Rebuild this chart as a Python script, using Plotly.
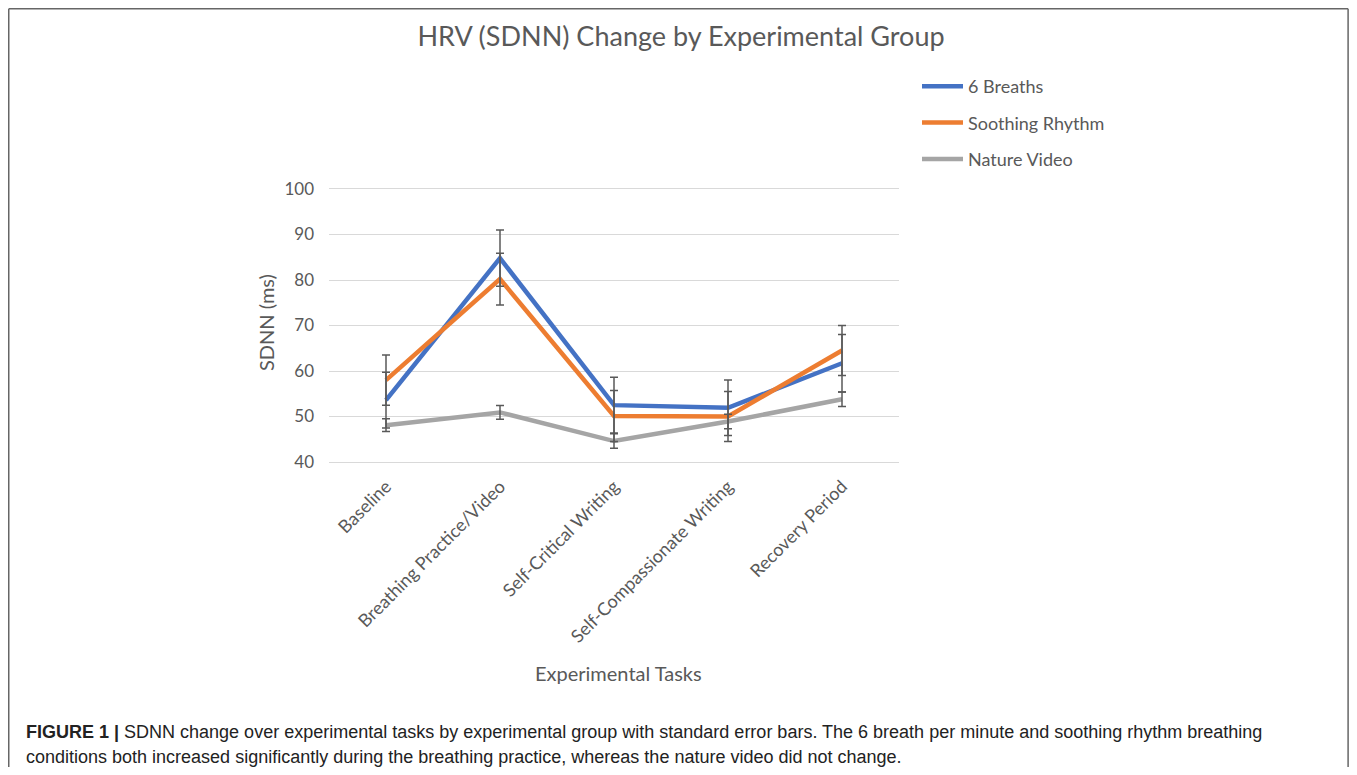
import plotly.graph_objects as go

categories = ["Baseline", "Breathing Practice/Video", "Self-Critical Writing",
              "Self-Compassionate Writing", "Recovery Period"]
series_names = ["6 Breaths", "Soothing Rhythm", "Nature Video"]
breaths6 = [53.6, 84.8, 52.5, 51.9, 61.7]
breaths6_se = [6.1, 6.2, 6.1, 6.1, 6.3]
soothing = [58.0, 80.2, 50.1, 50.0, 64.5]
soothing_se = [5.5, 5.7, 5.6, 5.5, 5.5]
nature = [48.1, 50.9, 44.6, 48.9, 53.8]
nature_se = [1.4, 1.5, 1.6, 1.6, 1.6]
colors = ["#4472C4", "#ED7D31", "#A5A5A5"]
y_ticks = [40, 50, 60, 70, 80, 90, 100]

title_text = "HRV (SDNN) Change by Experimental Group"
x_title = "Experimental Tasks"
y_title = "SDNN (ms)"
caption_bold = "FIGURE 1 |"
caption_1 = ("SDNN change over experimental tasks by experimental group with standard error bars. "
             "The 6 breath per minute and soothing rhythm breathing")
caption_2 = ("conditions both increased significantly during the breathing practice, "
             "whereas the nature video did not change.")

# the page body has an 8px margin on every side, so the figure starts at
# screen (8, 8) and must be 16px smaller than the window to avoid overflow
OFF = 8
W, H = 1357 - 2 * OFF, 775 - 2 * OFF
L, R, T, B = 329, 899, 189, 462          # plot area in screen pixels
PW, PH = R - L, B - T


def px(x):
    return (x - L) / PW


def py(y):
    return (B - y) / PH


FONT = "Lato, Carlito, 'Open Sans', sans-serif"
TXT = "#595959"

fig = go.Figure()
vals = [breaths6, soothing, nature]
ses = [breaths6_se, soothing_se, nature_se]
for i, name in enumerate(series_names):
    fig.add_trace(go.Scatter(
        x=categories, y=vals[i], mode="lines", name=name,
        line=dict(color=colors[i], width=4.5),
        legendgroup=name, hoverinfo="x+y+name"))
for i, name in enumerate(series_names):
    fig.add_trace(go.Scatter(
        x=categories, y=vals[i], mode="none", showlegend=False,
        error_y=dict(type="data", array=ses[i], symmetric=True,
                     color="#595959", thickness=1.5, width=4),
        hoverinfo="skip"))

CAPF = "'Liberation Sans', Arial, sans-serif"
annotations = [
    dict(text=x_title, xref="paper", yref="paper", x=px(618), y=py(673),
         showarrow=False, font=dict(family=FONT, size=20, color=TXT),
         xanchor="center", yanchor="middle"),
    dict(text=y_title, xref="paper", yref="paper", x=px(266), y=py(323),
         showarrow=False, font=dict(family=FONT, size=20, color=TXT),
         textangle=-90, xanchor="center", yanchor="middle"),
    dict(text="<b>" + caption_bold + "</b> " + caption_1, xref="paper", yref="paper",
         x=px(24), y=py(732), showarrow=False, align="left",
         font=dict(family=CAPF, size=18, color="#222222"),
         xanchor="left", yanchor="middle"),
    dict(text=caption_2, xref="paper", yref="paper",
         x=px(24), y=py(757), showarrow=False, align="left",
         font=dict(family=CAPF, size=18, color="#222222"),
         xanchor="left", yanchor="middle"),
]

border = "#666666"
right_edge = OFF + W - 0.9
shapes = [
    dict(type="line", xref="paper", yref="paper", x0=px(8.75), x1=px(right_edge),
         y0=py(8.75), y1=py(8.75), line=dict(color=border, width=1.5)),
    dict(type="line", xref="paper", yref="paper", x0=px(8.75), x1=px(8.75),
         y0=py(8.75), y1=py(800), line=dict(color=border, width=1.5)),
    dict(type="line", xref="paper", yref="paper", x0=px(right_edge), x1=px(right_edge),
         y0=py(8.75), y1=py(800), line=dict(color=border, width=1.5)),
]

fig.update_layout(
    width=W, height=H,
    margin=dict(l=L - OFF, r=W - (R - OFF), t=T - OFF, b=H - (B - OFF), pad=0),
    paper_bgcolor="white", plot_bgcolor="white",
    title=dict(text=title_text, x=(681 - OFF) / W, xref="container", xanchor="center",
               y=1 - (37 - OFF) / H, yref="container", yanchor="middle",
               font=dict(family=FONT, size=27, color=TXT)),
    showlegend=True,
    legend=dict(x=px(917), y=py(68), xanchor="left", yanchor="top",
                font=dict(family=FONT, size=18, color=TXT),
                tracegroupgap=10, traceorder="grouped", itemwidth=41,
                bgcolor="rgba(0,0,0,0)"),
    xaxis=dict(range=[-0.5, 4.5], showgrid=False, showline=True, mirror=True,
               linecolor="#D9D9D9", linewidth=1, tickangle=-45, ticks="",
               ticklabelstandoff=6,
               tickfont=dict(family=FONT, size=18, color=TXT),
               fixedrange=True),
    yaxis=dict(range=[40, 100], tickvals=y_ticks, showgrid=True, gridcolor="#D9D9D9",
               gridwidth=1, zeroline=False, showline=False, ticks="",
               ticklabelstandoff=14,
               tickfont=dict(family=FONT, size=17, color=TXT), fixedrange=True),
    annotations=annotations, shapes=shapes,
)

fig.write_html("out.html")
